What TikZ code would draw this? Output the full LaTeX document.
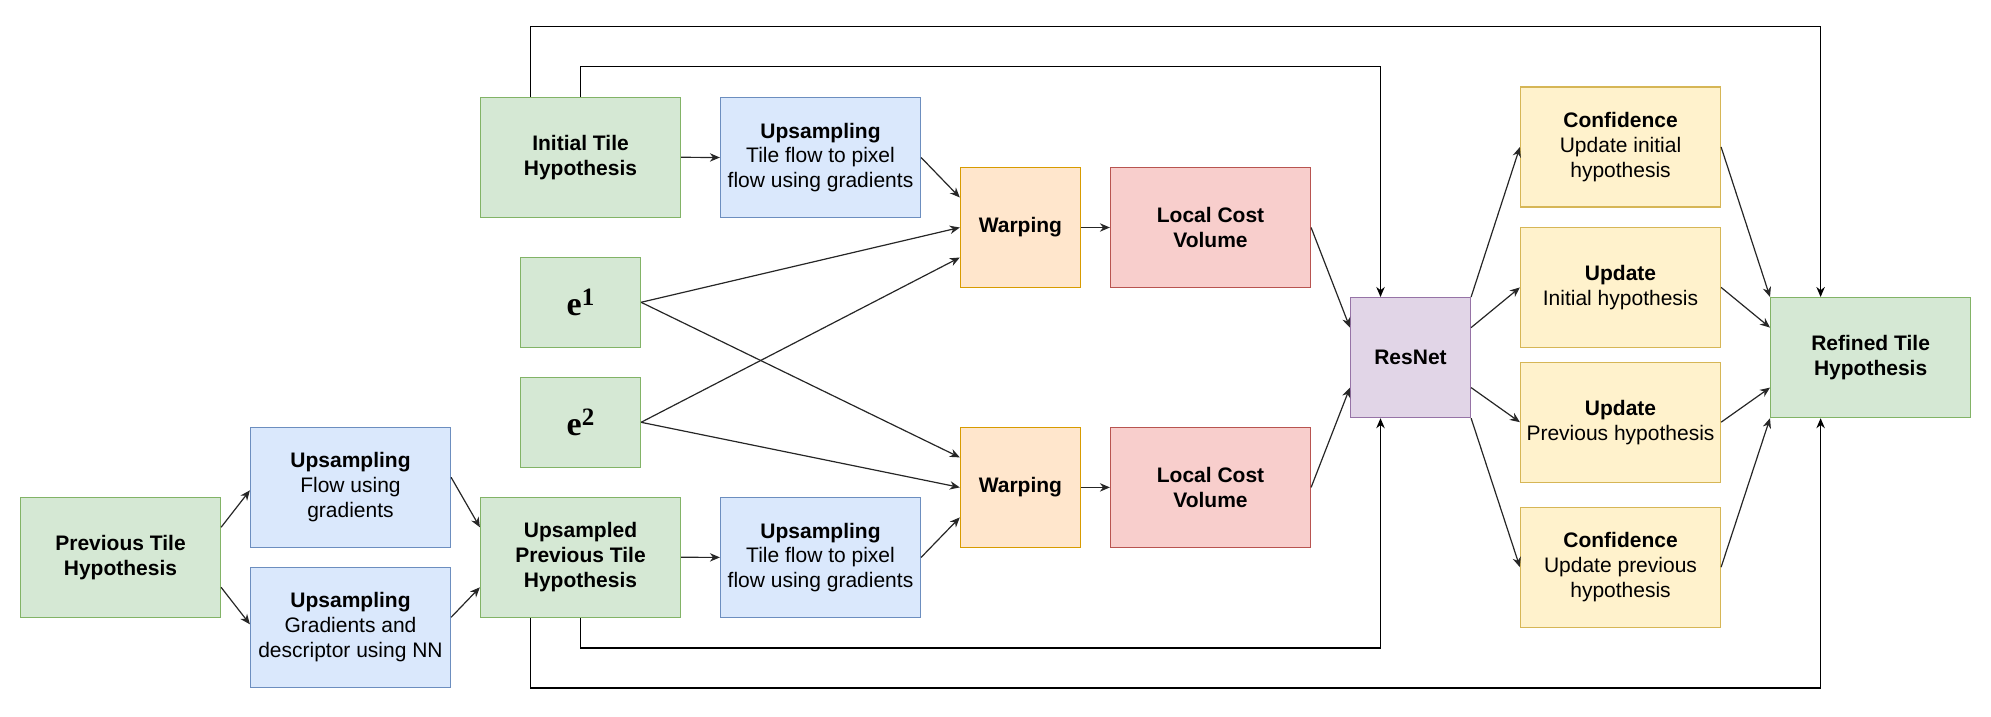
\documentclass[tikz,border=0pt]{standalone}
\usepackage{fontspec}
\setmainfont{Liberation Sans}
\newfontfamily\serifb{Liberation Serif}
\usetikzlibrary{arrows.meta,calc}
\definecolor{gfill}{HTML}{D5E8D4}\definecolor{gline}{HTML}{82B366}
\definecolor{bfill}{HTML}{DAE8FC}\definecolor{bline}{HTML}{6C8EBF}
\definecolor{ofill}{HTML}{FFE6CC}\definecolor{oline}{HTML}{D79B00}
\definecolor{rfill}{HTML}{F8CECC}\definecolor{rline}{HTML}{B85450}
\definecolor{pfill}{HTML}{E1D5E7}\definecolor{pline}{HTML}{9673A6}
\definecolor{yfill}{HTML}{FFF2CC}\definecolor{yline}{HTML}{D6B656}
\tikzset{
  box/.style={rectangle, inner sep=0pt, line width=0.6pt, align=center,
    font=\fontsize{10.5}{12.4}\selectfont, minimum width=100pt, minimum height=60pt},
  sq/.style={minimum width=60pt, minimum height=60pt},
  ebox/.style={minimum width=60pt, minimum height=45pt},
  green/.style={box, fill=gfill, draw=gline},
  blue/.style={box, fill=bfill, draw=bline},
  orange/.style={box, fill=ofill, draw=oline},
  red/.style={box, fill=rfill, draw=rline},
  purple/.style={box, fill=pfill, draw=pline},
  yellow/.style={box, fill=yfill, draw=yline},
  arr/.style={draw=black!85, line width=0.6pt, -{Stealth[length=5pt,width=4.2pt,inset=1.6pt]}},
  loopline/.style={draw=black, line width=0.7pt, -{Stealth[length=5pt,width=4.2pt,inset=1.6pt]}},
}
\newcommand{\evar}[1]{{\serifb\bfseries\fontsize{17}{17}\selectfont e\raisebox{5pt}{\bfseries\fontsize{12.5}{12.5}\selectfont #1}}}
\begin{document}
\begin{tikzpicture}[x=0.5pt,y=-0.5pt]
\useasboundingbox (0,0) rectangle (1991,717);
% nodes
\node[green] (prev) at (120.5,557.3) {\textbf{Previous Tile}\\\textbf{Hypothesis}};
\node[blue] (upf) at (350.5,487.3) {\textbf{Upsampling}\\Flow using\\gradients};
\node[blue] (upg) at (350.5,627.3) {\textbf{Upsampling}\\Gradients and\\descriptor using NN};
\node[green] (upd) at (580.5,557.3) {\textbf{Upsampled}\\\textbf{Previous Tile}\\\textbf{Hypothesis}};
\node[green] (init) at (580.5,157.3) {\textbf{Initial Tile}\\\textbf{Hypothesis}};
\node[green,ebox] (e1) at (580.5,302.3) {\evar{1}};
\node[green,ebox] (e2) at (580.5,422.3) {\evar{2}};
\node[blue] (ust) at (820.5,157.5) {\textbf{Upsampling}\\Tile flow to pixel\\flow using gradients};
\node[blue] (usb) at (820.5,557.4) {\textbf{Upsampling}\\Tile flow to pixel\\flow using gradients};
\node[orange,sq] (wt) at (1020.4,227.5) {\textbf{Warping}};
\node[orange,sq] (wb) at (1020.4,487.4) {\textbf{Warping}};
\node[red] (lt) at (1210.5,227.5) {\textbf{Local Cost}\\\textbf{Volume}};
\node[red] (lb) at (1210.5,487.4) {\textbf{Local Cost}\\\textbf{Volume}};
\node[purple,sq] (res) at (1410.5,357.6) {\textbf{ResNet}};
\node[yellow] (c1) at (1620.5,147) {\textbf{Confidence}\\Update initial\\hypothesis};
\node[yellow] (u1) at (1620.5,287.4) {\textbf{Update}\\Initial hypothesis};
\node[yellow] (u2) at (1620.5,422.2) {\textbf{Update}\\Previous hypothesis};
\node[yellow] (c2) at (1620.5,567.2) {\textbf{Confidence}\\Update previous\\hypothesis};
\node[green] (ref) at (1870.6,357.6) {\textbf{Refined Tile}\\\textbf{Hypothesis}};
% left part
\draw[arr] ([yshift=15pt]prev.east) -- ([yshift=-1.5pt]upf.west);
\draw[arr] ([yshift=-15pt]prev.east) -- ([yshift=1.5pt]upg.west);
\draw[arr] ([yshift=5pt]upf.east) -- ([yshift=15pt]upd.west);
\draw[arr] ([yshift=5pt]upg.east) -- ([yshift=-15pt]upd.west);
\draw[arr] (init.east) -- (ust.west);
\draw[arr] (upd.east) -- (usb.west);
% warping inputs
\draw[arr] (ust.east) -- ([yshift=15pt]wt.west);
\draw[arr] (e1.east) -- (wt.west);
\draw[arr] (e2.east) -- ([yshift=-15pt]wt.west);
\draw[arr] (e1.east) -- ([yshift=15pt]wb.west);
\draw[arr] (e2.east) -- (wb.west);
\draw[arr] (usb.east) -- ([yshift=-15pt]wb.west);
\draw[arr] (wt.east) -- (lt.west);
\draw[arr] (wb.east) -- (lb.west);
\draw[arr] (lt.east) -- ([yshift=15pt]res.west);
\draw[arr] (lb.east) -- ([yshift=-15pt]res.west);
% right part
\draw[arr] (res.north east) -- (c1.west);
\draw[arr] ([yshift=15pt]res.east) -- (u1.west);
\draw[arr] ([yshift=-15pt]res.east) -- (u2.west);
\draw[arr] (res.south east) -- (c2.west);
\draw[arr] (c1.east) -- (ref.north west);
\draw[arr] (u1.east) -- ([yshift=15pt]ref.west);
\draw[arr] (u2.east) -- ([yshift=-15pt]ref.west);
\draw[arr] (c2.east) -- (ref.south west);
% loops
\draw[loopline] ([xshift=-25pt]init.north) -- ++(0,-70) -| ([xshift=-25pt]ref.north);
\draw[loopline] (init.north) -- ++(0,-30) -| ([xshift=-15pt]res.north);
\draw[loopline] ([xshift=-25pt]upd.south) -- ++(0,70) -| ([xshift=-25pt]ref.south);
\draw[loopline] (upd.south) -- ++(0,30) -| ([xshift=-15pt]res.south);
\end{tikzpicture}
\end{document}
